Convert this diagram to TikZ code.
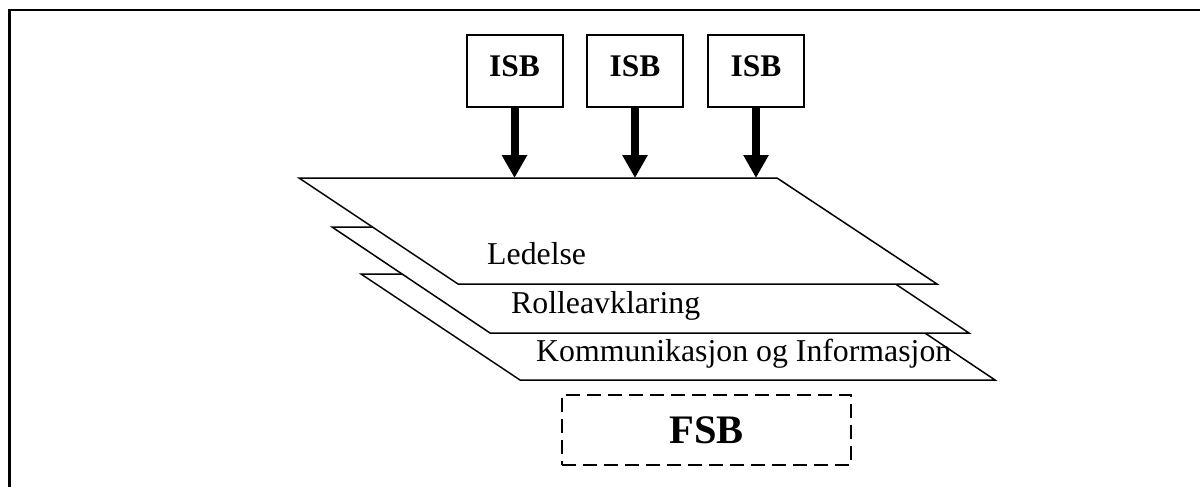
\documentclass[tikz,border=0pt]{standalone}
\usepackage{fontspec}
\setmainfont{Liberation Serif}
\usetikzlibrary{arrows.meta}

\tikzset{
  frameline/.style={line width=2.5pt, line cap=rect},
  layer/.style={draw, fill=white, line width=1.5pt, line join=miter},
  layertext/.style={anchor=base west, inner sep=0pt, font=\fontsize{31.8}{32}\selectfont},
  isbbox/.style={draw, line width=2pt, minimum width=96pt, minimum height=72pt,
    inner sep=0pt, text height=21pt, text depth=10pt,
    font=\fontsize{31.5}{32}\selectfont\bfseries},
  fsbbox/.style={draw, dash pattern=on 14pt off 7pt, line width=2.5pt,
    minimum width=289pt, minimum height=70pt, inner sep=0pt,
    text height=26.5pt, text depth=0pt,
    font=\fontsize{40.5}{41}\selectfont\bfseries},
  feed/.style={line width=8pt, -{Triangle[width=24pt,length=23pt]}}
}

\begin{document}
\begin{tikzpicture}[x=1pt,y=-1pt]
  \useasboundingbox (0,0) rectangle (1200,487);

  % outer frame (top and left edges)
  \draw[frameline] (9.5,490) -- (9.5,10) -- (1203,10);

  % stacked layers, bottom one first
  \draw[layer] (361,274) -- (837,274) -- (995,380) -- (520,380) -- cycle;
  \draw[layer] (332,227) -- (810,227) -- (969,333) -- (490,333) -- cycle;
  \draw[layer] (299,178) -- (777,178) -- (937,284) -- (458,284) -- cycle;

  \node[layertext] (ledelse) at (487,264) {Ledelse};
  \node[layertext] (rolle) at (511,313) {Rolleavklaring};
  \node[layertext] (komm) at (536,361) {Kommunikasjon og Informasjon};

  % ISB boxes feeding the top layer
  \node[isbbox] (isb1) at (514.5,70.7) {ISB};
  \node[isbbox] (isb2) at (635,70.7) {ISB};
  \node[isbbox] (isb3) at (756,70.7) {ISB};

  \coordinate (t1) at (514.5,178);
  \coordinate (t2) at (635,178);
  \coordinate (t3) at (756,178);

  \draw[feed] (isb1.south) -- (t1);
  \draw[feed] (isb2.south) -- (t2);
  \draw[feed] (isb3.south) -- (t3);

  % FSB box below the layers
  \node[fsbbox] (fsb) at (706.5,430) {FSB};
\end{tikzpicture}
\end{document}
